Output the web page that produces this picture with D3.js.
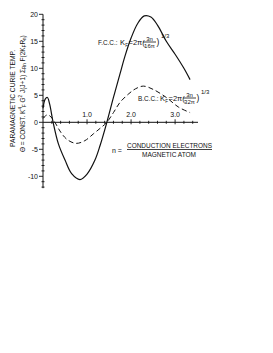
<!DOCTYPE html>
<html>
<head>
<meta charset="utf-8">
<script src="https://cdn.jsdelivr.net/npm/d3@7"></script>
<style>
  html, body { margin: 0; padding: 0; background: #fff; }
  svg { display: block; }
  text { font-family: "Liberation Sans", Arial, sans-serif; fill: #111; }
</style>
</head>
<body>
<div id="chart"></div>
<script>
// n = conduction electrons per magnetic atom
const fccN   = [0, 0.05, 0.1, 0.15, 0.23, 0.35, 0.5, 0.65, 0.84, 1.0, 1.18, 1.3, 1.45, 1.6, 1.75, 1.86, 2.0, 2.15, 2.3, 2.45, 2.6, 2.8, 3.0, 3.2, 3.34];
const fccVal = [2.6, 4.3, 4.6, 3.4, 0, -4, -7, -9.5, -10.6, -9.6, -7, -4.2, 0, 4.6, 9, 12.2, 15.6, 18.3, 19.7, 19.5, 18, 15, 12.6, 10, 7.9];

const bccN   = [0, 0.1, 0.18, 0.27, 0.4, 0.55, 0.75, 0.95, 1.15, 1.3, 1.45, 1.6, 1.75, 1.95, 2.1, 2.28, 2.5, 2.8, 3.08, 3.34];
const bccVal = [0.7, 1.4, 1.0, 0, -1.8, -3.2, -3.9, -3.4, -2.1, -1.1, 0, 1.8, 3.7, 5.3, 6.2, 6.7, 6.1, 4.6, 2.8, 1.8];

const xMajor = [1, 2, 3];
const xMajorLabels = ['1.0', '2.0', '3.0'];
const yMajor = [20, 15, 10, 5, 0, -5, -10];

const W = 273, H = 353;

const svg = d3.select('#chart').append('svg')
  .attr('width', W)
  .attr('height', H);

const x = d3.scaleLinear().domain([0, 3.52]).range([43, 198]);
const y = d3.scaleLinear().domain([-10, 20]).range([176.3, 14.3]);

// Y axis line + ticks
svg.append('line')
  .attr('x1', x(0)).attr('x2', x(0))
  .attr('y1', y(20)).attr('y2', y(-12.2))
  .attr('stroke', '#111').attr('stroke-width', 1);

svg.selectAll('.ymin')
  .data(d3.range(-12, 21))
  .enter()
  .append('line')
  .attr('x1', d => x(0) - (d % 5 === 0 ? 4 : 1.5))
  .attr('x2', d => x(0) + (d % 5 === 0 ? 0 : 1.5))
  .attr('y1', d => y(d)).attr('y2', d => y(d))
  .attr('stroke', '#111').attr('stroke-width', 0.9);

svg.selectAll('.ylab')
  .data(yMajor)
  .enter()
  .append('text')
  .attr('x', x(0) - 5)
  .attr('y', d => y(d) + 2.5)
  .attr('text-anchor', 'end')
  .style('font-size', '7px')
  .text(d => d < 0 ? '-' + Math.abs(d) : d);

// X axis line + ticks
svg.append('line')
  .attr('x1', x(0)).attr('x2', x(3.52))
  .attr('y1', y(0)).attr('y2', y(0))
  .attr('stroke', '#111').attr('stroke-width', 1);

svg.selectAll('.xmin')
  .data(d3.range(1, 18).map(i => i * 0.2))
  .enter()
  .append('line')
  .attr('x1', d => x(d)).attr('x2', d => x(d))
  .attr('y1', d => y(0) - (Math.abs(d - Math.round(d)) < 1e-6 ? 3 : 1.5))
  .attr('y2', d => y(0) + (Math.abs(d - Math.round(d)) < 1e-6 ? 2 : 1.5))
  .attr('stroke', '#111').attr('stroke-width', 0.9);

svg.selectAll('.xlab')
  .data(xMajor)
  .enter()
  .append('text')
  .attr('x', d => x(d))
  .attr('y', y(0) - 5)
  .attr('text-anchor', 'middle')
  .style('font-size', '7px')
  .text((d, i) => xMajorLabels[i]);

// Curves
const line = d3.line()
  .x(d => x(d[0]))
  .y(d => y(d[1]))
  .curve(d3.curveCatmullRom.alpha(0.5));

svg.append('path')
  .datum(fccN.map((n, i) => [n, fccVal[i]]))
  .attr('d', line)
  .attr('fill', 'none')
  .attr('stroke', '#111')
  .attr('stroke-width', 1.2);

svg.append('path')
  .datum(bccN.map((n, i) => [n, bccVal[i]]))
  .attr('d', line)
  .attr('fill', 'none')
  .attr('stroke', '#111')
  .attr('stroke-width', 1)
  .attr('stroke-dasharray', '5,3');

// Curve labels: K_F = 2π(3n / Nπ)^(1/3)
function kfLabel(x0, base, prefix, den) {
  const g = svg.append('g');
  const part = (tx, ty, str, size) => g.append('text')
    .attr('x', tx).attr('y', ty)
    .style('font-size', size + 'px').text(str);
  part(x0, base, prefix + ':', 6.4);
  part(x0 + 22, base, 'K', 7.5);
  part(x0 + 27.3, base + 1.5, 'F', 4.5);
  part(x0 + 30.5, base, '=2\u03c0(', 7.5);
  const fx = x0 + 45;
  g.append('text').attr('x', fx + 6.5).attr('y', base - 4.3)
    .attr('text-anchor', 'middle').style('font-size', '6px').text('3n');
  g.append('line')
    .attr('x1', fx).attr('x2', fx + 13)
    .attr('y1', base - 3).attr('y2', base - 3)
    .attr('stroke', '#111').attr('stroke-width', 0.8);
  g.append('text').attr('x', fx + 6.5).attr('y', base + 2.8)
    .attr('text-anchor', 'middle').style('font-size', '6px').text(den + '\u03c0');
  part(fx + 13.5, base, ')', 8.5);
  part(fx + 18, base - 7, '1/3', 6);
}

kfLabel(98, 45, 'F.C.C.', '16');
kfLabel(138, 101, 'B.C.C.', '32');

// n = conduction electrons / magnetic atom
svg.append('text')
  .attr('x', 112).attr('y', 152.5)
  .style('font-size', '7px')
  .text('n =');
svg.append('text')
  .attr('x', 127).attr('y', 147.5)
  .attr('textLength', 85).attr('lengthAdjust', 'spacingAndGlyphs')
  .style('font-size', '6.5px')
  .text('CONDUCTION ELECTRONS');
svg.append('line')
  .attr('x1', 127).attr('x2', 212)
  .attr('y1', 149.5).attr('y2', 149.5)
  .attr('stroke', '#111').attr('stroke-width', 0.8);
svg.append('text')
  .attr('x', 142).attr('y', 157)
  .attr('textLength', 54).attr('lengthAdjust', 'spacingAndGlyphs')
  .style('font-size', '6.5px')
  .text('MAGNETIC ATOM');

// Y axis titles (rotated)
svg.append('text')
  .attr('transform', 'translate(14.5,98.5) rotate(-90)')
  .attr('text-anchor', 'middle')
  .attr('textLength', 97).attr('lengthAdjust', 'spacingAndGlyphs')
  .style('font-size', '6.5px')
  .text('PARAMAGNETIC CURIE TEMP.');

const t2 = svg.append('text')
  .attr('transform', 'translate(24.5,152) rotate(-90)')
  .style('font-size', '6.5px');
t2.append('tspan').text('\u0398 = CONST. K');
t2.append('tspan').attr('dy', -2.5).style('font-size', '4.5px').text('4');
t2.append('tspan').attr('dy', 4).style('font-size', '4.5px').text('F');
t2.append('tspan').attr('dy', -1.5).text(' G');
t2.append('tspan').attr('dy', -2.5).style('font-size', '4.5px').text('2');
t2.append('tspan').attr('dy', 2.5).text(' J(J+1) \u03a3');
t2.append('tspan').attr('dy', 1.5).style('font-size', '4.5px').text('Rn');
t2.append('tspan').attr('dy', -1.5).text(' F(2K');
t2.append('tspan').attr('dy', 1.5).style('font-size', '4.5px').text('F');
t2.append('tspan').attr('dy', -1.5).text('R');
t2.append('tspan').attr('dy', 1.5).style('font-size', '4.5px').text('n');
t2.append('tspan').attr('dy', -1.5).text(')');
</script>
</body>
</html>
